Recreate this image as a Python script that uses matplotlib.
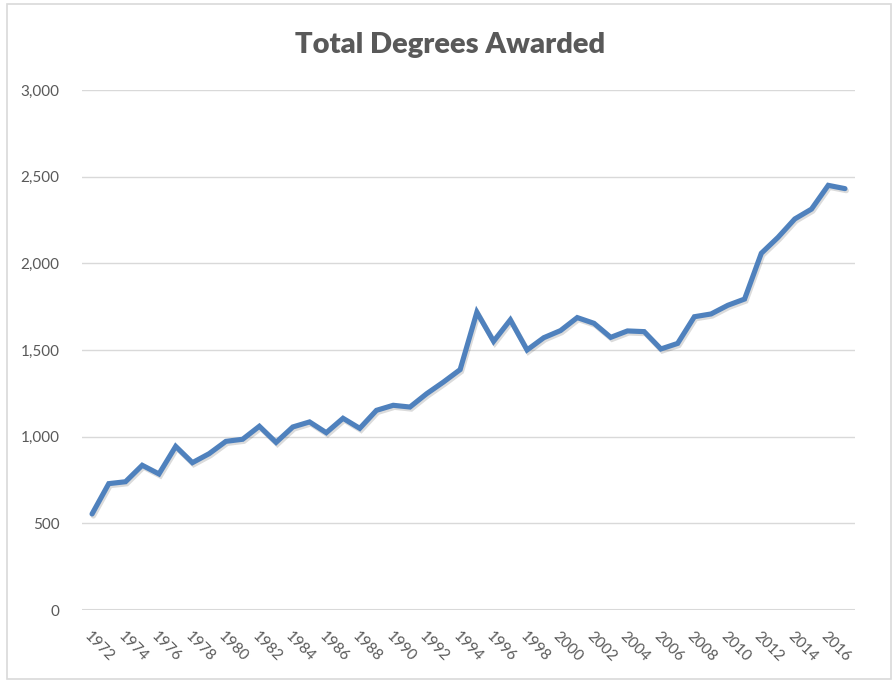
import matplotlib
matplotlib.use("Agg")
import matplotlib.pyplot as plt
import matplotlib.patheffects as pe
from matplotlib.patches import Rectangle
from matplotlib.ticker import FuncFormatter

years = list(range(1972, 2018))
degrees = [554, 729, 740, 835, 785, 944, 850, 902, 973, 985,
           1060, 967, 1056, 1085, 1023, 1106, 1048, 1152, 1181, 1171,
           1248, 1315, 1387, 1718, 1550, 1674, 1500, 1571, 1612, 1687,
           1654, 1573, 1610, 1606, 1506, 1538, 1692, 1708, 1758, 1794,
           2058, 2150, 2256, 2313, 2450, 2431]
tick_years = list(range(1972, 2017, 2))
y_ticks = [0, 500, 1000, 1500, 2000, 2500, 3000]

plt.rcParams['font.family'] = ['Lato', 'DejaVu Sans']

fig = plt.figure(figsize=(8.93, 6.81), dpi=100)
fig.patches.append(Rectangle((7 / 893, 2 / 681), 884 / 893, 675 / 681,
                             transform=fig.transFigure, fill=False,
                             edgecolor='#D9D9D9', linewidth=1.2))

ax = fig.add_axes([82 / 893, 1 - 610 / 681, (855 - 82) / 893, (610 - 90) / 681])

xs = list(range(len(years)))
ax.plot(xs, degrees, color='#4F81BD', linewidth=3.7, solid_joinstyle='miter',
        solid_capstyle='round', zorder=3,
        path_effects=[pe.SimpleLineShadow(offset=(1, -1.5), shadow_color='#000000', alpha=0.14),
                      pe.Normal()])

ax.set_ylim(0, 3000)
ax.set_xlim(-0.6, len(years) - 0.4)
ax.set_yticks(y_ticks)
ax.yaxis.set_major_formatter(FuncFormatter(lambda v, p: f"{int(v):,}"))
ax.set_xticks([years.index(y) for y in tick_years])
ax.set_xticklabels([str(y) for y in tick_years], rotation=-45, ha='left', va='top',
                   rotation_mode='anchor')

ax.tick_params(axis='both', length=0, colors='#595959', labelsize=11)
ax.tick_params(axis='y', pad=16)
ax.tick_params(axis='x', pad=14)
for s in ax.spines.values():
    s.set_visible(False)
ax.grid(axis='y', color='#D9D9D9', linewidth=1.0, zorder=0)
ax.set_axisbelow(True)
ax.axhline(0, color='#D9D9D9', linewidth=2.2, zorder=1)

fig.text(450 / 893, 1 - 45 / 681, 'Total Degrees Awarded', ha='center', va='center',
         fontsize=21, fontweight='heavy', color='#595959')

fig.savefig('out.png', dpi=100)
